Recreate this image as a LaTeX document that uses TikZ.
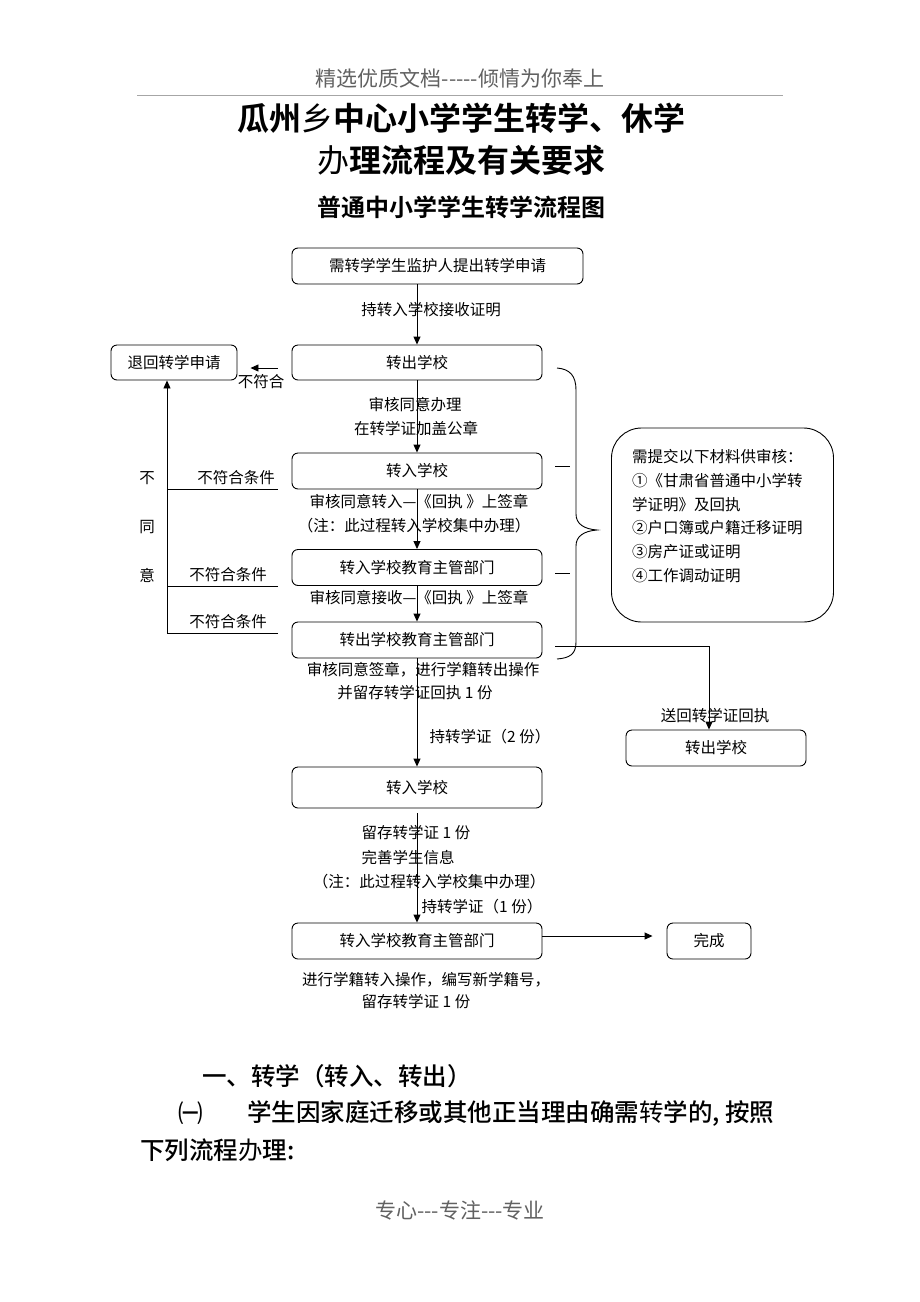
\documentclass[tikz,border=0pt]{standalone}
\usepackage{fontspec}
\newfontfamily\cjk{Noto Sans CJK SC}[BoldFont={Noto Sans CJK SC Bold}]
\newfontfamily\cjkmed{Noto Sans CJK SC Medium}
\usetikzlibrary{arrows.meta}
\definecolor{hdrgray}{gray}{0.38}
\definecolor{rulegray}{gray}{0.65}
\tikzset{
  box/.style={draw, rounded corners=6pt, line width=0.9pt, minimum height=36pt, inner sep=0pt, font=\cjk\fontsize{15.5}{18}\selectfont},
  lbl/.style={inner sep=0pt, font=\cjk\fontsize{15.5}{18}\selectfont},
  arr/.style={line width=0.9pt, -{Triangle[length=8pt,width=7pt]}},
  conn/.style={line width=0.9pt},
  body/.style={inner sep=0pt, font=\cjkmed\fontsize{24.5}{28}\selectfont},
  hdr/.style={inner sep=0pt, text=hdrgray, font=\cjk\fontsize{21}{24}\selectfont}
}
\begin{document}
\begin{tikzpicture}[x=1pt,y=-1pt]
\fill[white] (0,0) rectangle (920,1302);
\useasboundingbox (0,0) rectangle (920,1302);

% header
\node[hdr] (hd) at (460,78) {精选优质文档-----倾情为你奉上};
\draw[rulegray, line width=1pt] (137,95) -- (783,95);
\node[inner sep=0pt, font=\cjk\fontsize{32}{36}\selectfont] (t1) at (461,118) {\bfseries 瓜州\mdseries 乡\bfseries 中心小学学生转学、休学};
\node[inner sep=0pt, font=\cjk\fontsize{32}{36}\selectfont] (t2) at (461,160) {\mdseries 办\bfseries 理流程及有关要求};
\node[inner sep=0pt, font=\cjk\bfseries\fontsize{24}{28}\selectfont] (t3) at (461,207) {普通中小学学生转学流程图};

% boxes
\node[box, minimum width=291pt] (B1) at (437.5,266) {需转学学生监护人提出转学申请};
\node[box, minimum width=250pt, minimum height=35pt] (B2) at (417,362.5) {转出学校};
\node[box, minimum width=126pt, minimum height=35pt] (Rej) at (174,362.5) {退回转学申请};
\node[box, minimum width=250pt] (B3) at (417,471) {转入学校};
\node[box, minimum width=250pt] (B4) at (417,567.5) {转入学校教育主管部门};
\node[box, minimum width=250pt] (B5) at (417,640) {转出学校教育主管部门};
\node[box, minimum width=250pt, minimum height=41pt] (B6) at (417,787.5) {转入学校};
\node[box, minimum width=250pt] (B7) at (417,941) {转入学校教育主管部门};
\node[box, minimum width=84pt] (Done) at (709,941) {完成};
\node[box, minimum width=180pt] (Out) at (716,748) {转出学校};
\node[draw, rounded corners=30pt, line width=0.9pt, minimum width=222pt, minimum height=194pt] (Mat) at (722.5,525) {};

% materials text
\node[lbl, anchor=west] (m1) at (632,457) {需提交以下材料供审核：};
\node[lbl, anchor=west] (m2) at (632,481) {①《甘肃省普通中小学转};
\node[lbl, anchor=west] (m3) at (632,504.5) {学证明》及回执};
\node[lbl, anchor=west] (m4) at (632,528) {②户口簿或户籍迁移证明};
\node[lbl, anchor=west] (m5) at (632,552) {③房产证或证明};
\node[lbl, anchor=west] (m6) at (632,575.5) {④工作调动证明};

% labels along the main line
\node[lbl] (a1) at (431,310) {持转入学校接收证明};
\node[lbl] (a2) at (415,405) {审核同意办理};
\node[lbl] (a3) at (416,429) {在转学证加盖公章};
\node[lbl] (a4) at (419,502) {审核同意转入—《回执 》上签章};
\node[lbl] (a5) at (414,526) {（注：此过程转入学校集中办理）};
\node[lbl] (a6) at (419,598) {审核同意接收—《回执 》上签章};
\node[lbl] (a7) at (423,670) {审核同意签章，进行学籍转出操作};
\node[lbl] (a8) at (415,693) {并留存转学证回执 1 份};
\node[lbl] (a9) at (490,737) {持转学证（2 份）};
\node[lbl] (a10) at (416,833) {留存转学证 1 份};
\node[lbl] (a11) at (408,858) {完善学生信息};
\node[lbl] (a12) at (429,882) {（注：此过程转入学校集中办理）};
\node[lbl] (a13) at (482,907) {持转学证（1 份）};
\node[lbl] (a14) at (426,980) {进行学籍转入操作，编写新学籍号，};
\node[lbl] (a15) at (416,1002) {留存转学证 1 份};
\node[lbl] (a16) at (715,716) {送回转学证回执};

% left side labels
\node[lbl] (n0) at (261,382) {不符合};
\node[lbl] (n1) at (236,478) {不符合条件};
\node[lbl] (n2) at (228,575) {不符合条件};
\node[lbl] (n3) at (228,622) {不符合条件};
\node[lbl] (v1) at (147,478) {不};
\node[lbl] (v2) at (147,527) {同};
\node[lbl] (v3) at (147,575) {意};

% main flow
\draw[arr] (B1.south -| B2.north) -- (B2.north);
\draw[arr] (B2.south) -- (B3.north);
\draw[arr] (B3.south) -- (B4.north);
\draw[arr] (B4.south) -- (B5.north);
\draw[arr] (B5.south) -- (B6.north);
\draw[arr] ([yshift=-5pt]B6.south) -- (B7.north);
\draw[arr] ([yshift=5pt]B7.east) -- ([xshift=-14pt,yshift=5pt]Done.west);

% reject
\draw[arr] ([xshift=-14pt,yshift=-5.5pt]B2.west) -- ([xshift=13pt,yshift=-5.5pt]Rej.east);
\coordinate (c1) at (278,489);
\coordinate (c2) at (278,586);
\coordinate (c3) at (278,633);
\coordinate (fb) at (167,633);
\draw[conn] (c1) -- (c1 -| fb);
\draw[conn] (c2) -- (c2 -| fb);
\draw[arr] (c3) -- (fb) -- (fb |- Rej.south);

% brace and ticks
\draw[conn] (557,368) .. controls (570,369) and (576,376) .. (576,390)
  -- (576,514) .. controls (576,524) and (584,529) .. (597,530)
  .. controls (584,531) and (576,536) .. (576,546)
  -- (576,642) .. controls (576,654) and (570,658) .. (557,659);
\draw[conn] (555,466) -- (570,466);
\draw[conn] (555,573) -- (570,573);

% to outgoing school
\coordinate (r0) at (555,646);
\coordinate (r1) at (709,646);
\draw[arr] (r0) -- (r1) -- (r1 |- Out.north);

% bottom text
\node[body, anchor=west] (p1) at (202,1076) {一、转学（转入、转出）};
\node[body] (p2) at (191,1113) {㈠};
\node[body, anchor=west] (p3) at (247,1113) {学生因家庭迁移或其他正当理由确需{\cjk 转}学的, 按照};
\node[body, anchor=west] (p4) at (140,1150) {下列流程{\cjk 办}理:};
\node[hdr] (ft) at (460,1210) {专心---专注---专业};
\end{tikzpicture}
\end{document}
